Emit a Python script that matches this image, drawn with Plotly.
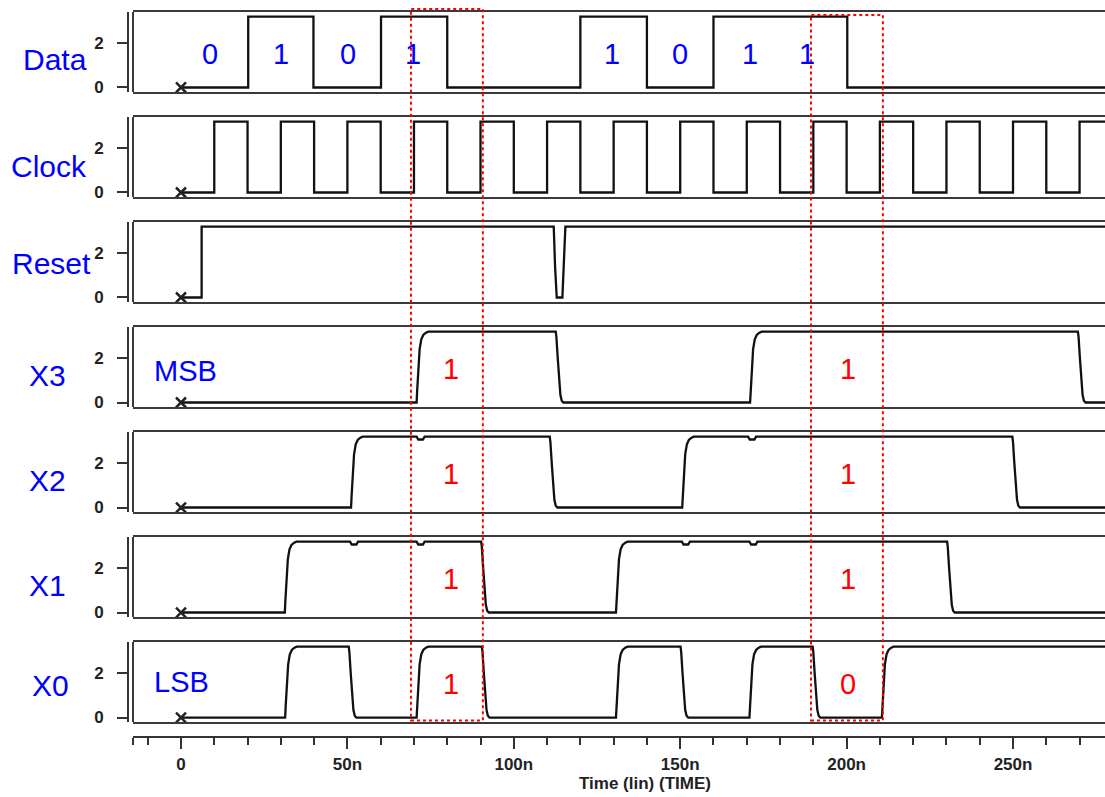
import plotly.graph_objects as go

W, H = 1105, 797
T_MIN, T_MAX = -14.42, 277.64
T_END = 285.0

# ---------------- data ----------------
NAMES = ["Data", "Clock", "Reset", "X3", "X2", "X1", "X0"]

DATA_T = [0, 20.2, 39.8, 60.1, 80.0, 120.0, 140.0, 160.0, 200.2, T_END]
DATA_V = [0, 3.2, 0, 3.2, 0, 3.2, 0, 3.2, 0, 0]

CLOCK_T = [0, 10, 20, 30, 40, 50, 60, 70, 80, 90, 100, 110, 120, 130, 140,
           150, 160, 170, 180, 190, 200, 210, 220, 230, 240, 250, 260, 270, T_END]
CLOCK_V = [0, 3.2, 0, 3.2, 0, 3.2, 0, 3.2, 0, 3.2, 0, 3.2, 0, 3.2, 0,
           3.2, 0, 3.2, 0, 3.2, 0, 3.2, 0, 3.2, 0, 3.2, 0, 3.2, 3.2]

RESET_T = [0, 6.2, 6.2, 112.0, 112.4, 112.9, 114.6, 115.0, 115.5, T_END]
RESET_V = [0, 0, 3.2, 3.2, 1.4, 0, 0, 1.4, 3.2, 3.2]

# edge shapes of the counter outputs (time offset in ns, volts)
RISE_DT = [0, 0.15, 0.5, 0.9, 1.4, 2.0, 2.8, 3.5]
RISE_V = [0, 0.5, 1.6, 2.4, 2.85, 3.05, 3.15, 3.2]
FALL_DT = [0, 0.2, 0.6, 1.0, 1.4, 1.8, 2.3]
FALL_V = [3.2, 2.95, 2.0, 1.0, 0.35, 0.08, 0]
DIP_DT = [-1.2, -0.7, 0.7, 1.2]
DIP_V = [3.2, 3.07, 3.07, 3.2]

X3_RISE, X3_FALL, X3_DIPS = [70.8, 171.0], [112.6, 269.5], []
X2_RISE, X2_FALL, X2_DIPS = [51.1, 150.6], [110.8, 249.8], [72.0, 171.6]
X1_RISE, X1_FALL, X1_DIPS = [31.2, 130.7], [90.2, 230.2], [52.0, 72.0, 151.7, 172.0]
X0_RISE = [31.3, 70.8, 130.7, 170.8, 210.6]
X0_FALL = [50.4, 90.4, 150.1, 189.8]
X0_DIPS = []

DATA_BITS = ["0", "1", "0", "1", "1", "0", "1", "1"]
DATA_BIT_T = [8.7, 30.0, 50.2, 69.7, 129.5, 149.8, 171.0, 188.0]

OUT_BIT_T = [81.1, 200.3]
OUT_BITS = {"X3": ["1", "1"], "X2": ["1", "1"], "X1": ["1", "1"], "X0": ["1", "0"]}

BOX_T0 = [69.1, 189.3]
BOX_T1 = [90.7, 210.9]

TIME_TICKS = [0, 50, 100, 150, 200, 250]
TIME_LABELS = ["0", "50n", "100n", "150n", "200n", "250n"]
TIME_MINOR = [-10, 10, 20, 30, 40, 60, 70, 80, 90, 110, 120, 130, 140, 160, 170,
              180, 190, 210, 220, 230, 240, 260, 270]
V_TICKS = [0, 2]
V_LABELS = ["0", "2"]


def build(rises, falls, dips):
    ev = sorted([(t, "r") for t in rises] + [(t, "f") for t in falls] + [(t, "d") for t in dips])
    ts, vs = [0.0], [0.0]
    for t, k in ev:
        dt, vv = {"r": (RISE_DT, RISE_V), "f": (FALL_DT, FALL_V), "d": (DIP_DT, DIP_V)}[k]
        ts += [t + d for d in dt]
        vs += list(vv)
    ts.append(T_END)
    vs.append(vs[-1])
    return ts, vs


SIGNALS = [
    (DATA_T, DATA_V, "hv"),
    (CLOCK_T, CLOCK_V, "hv"),
    (RESET_T, RESET_V, "linear"),
    (*build(X3_RISE, X3_FALL, X3_DIPS), "linear"),
    (*build(X2_RISE, X2_FALL, X2_DIPS), "linear"),
    (*build(X1_RISE, X1_FALL, X1_DIPS), "linear"),
    (*build(X0_RISE, X0_FALL, X0_DIPS), "linear"),
]

# ---------------- layout geometry (pixels) ----------------
ZERO0, STEP = 88.0, 105.67
Y_RANGE = [-0.2, 3.41]
X_LEFT_PX = 133
YAX_PX = 128


def py(px):
    return 1 - px / H


def px_x(px):
    return px / W


fig = go.Figure()
layout = dict(
    width=W, height=H, margin=dict(l=0, r=0, t=0, b=0),
    paper_bgcolor="white", plot_bgcolor="rgba(0,0,0,0)", showlegend=False,
    font=dict(family="Liberation Sans, Arial, sans-serif", color="#222"),
)
shapes, annots = [], []

# time axis (added first so its empty subplot sits underneath)
fig.add_trace(go.Scatter(x=[0], y=[None], xaxis="x8", yaxis="y8", mode="lines", hoverinfo="skip"))
layout["xaxis8"] = dict(domain=[px_x(X_LEFT_PX), 1], range=[T_MIN, T_MAX], anchor="free",
                        position=py(742), showline=True, linecolor="#333", linewidth=2,
                        ticks="outside", ticklen=11, tickwidth=2, tickcolor="#333",
                        tickvals=TIME_TICKS, ticktext=TIME_LABELS,
                        tickfont=dict(size=17, weight="bold", color="#222"),
                        minor=dict(tickvals=TIME_MINOR + [T_MIN], ticks="outside", ticklen=7,
                                   tickwidth=2, tickcolor="#333", showgrid=False),
                        showgrid=False, zeroline=False, fixedrange=True)
layout["yaxis8"] = dict(domain=[0, 0.01], anchor="x8", visible=False, fixedrange=True)

for i, (name, (ts, vs, shape)) in enumerate(zip(NAMES, SIGNALS)):
    k = "" if i == 0 else str(i + 1)
    z = ZERO0 + STEP * i
    top_px, bot_px = z - 76.0, z + 4.5
    fig.add_trace(go.Scatter(x=ts, y=vs, mode="lines", line=dict(color="#111", width=2.3, shape=shape),
                             xaxis="x" + k, yaxis="y" + k, hoverinfo="skip"))
    fig.add_trace(go.Scatter(x=[0], y=[0], mode="markers",
                             marker=dict(symbol="x-thin", size=10, line=dict(width=2.5, color="#222")),
                             xaxis="x" + k, yaxis="y" + k, hoverinfo="skip"))
    layout["xaxis" + k] = dict(domain=[px_x(X_LEFT_PX), 1], range=[T_MIN, T_MAX], anchor="y" + k,
                               showline=True, mirror=True, linecolor="#3a3a3a", linewidth=2,
                               showgrid=False, zeroline=False, showticklabels=False, ticks="",
                               fixedrange=True)
    layout["yaxis" + k] = dict(domain=[py(bot_px), py(top_px)], range=Y_RANGE, anchor="free",
                               position=px_x(YAX_PX), showline=True, linecolor="#333", linewidth=2,
                               ticks="outside", ticklen=10, tickwidth=2, tickcolor="#333",
                               tickvals=V_TICKS, ticktext=V_LABELS, ticklabelstandoff=10,
                               tickfont=dict(size=17, weight="bold", color="#222"),
                               showgrid=False, zeroline=False, fixedrange=True)
    shapes.append(dict(type="line", xref="paper", yref="paper", x0=px_x(X_LEFT_PX), x1=px_x(X_LEFT_PX),
                       y0=py(bot_px), y1=py(top_px), line=dict(color="#3a3a3a", width=2)))

# signal names
NAME_POS = [(55, 60), (49, 168), (51, 265), (47, 378), (47, 484), (47, 589), (50, 690)]
for name, (x, y) in zip(NAMES, NAME_POS):
    annots.append(dict(text=name, x=px_x(x), y=py(y), xref="paper", yref="paper", showarrow=False,
                       xanchor="center", yanchor="middle",
                       font=dict(size=30, color="#0000ff", family="Liberation Sans, Arial")))

# data bit labels
for b, t in zip(DATA_BITS, DATA_BIT_T):
    annots.append(dict(text=b, x=t, y=1.5, xref="x", yref="y", showarrow=False,
                       font=dict(size=29, color="#0000ff", family="Liberation Sans, Arial")))

# output bit labels
for name in ["X3", "X2", "X1", "X0"]:
    i = NAMES.index(name)
    k = str(i + 1)
    for b, t in zip(OUT_BITS[name], OUT_BIT_T):
        annots.append(dict(text=b, x=t, y=1.5, xref="x" + k, yref="y" + k, showarrow=False,
                           font=dict(size=29, color="#ff0000", family="Liberation Sans, Arial")))

annots.append(dict(text="MSB", x=1.5, y=1.4, xref="x4", yref="y4", showarrow=False, xanchor="center",
                   font=dict(size=29, color="#0000ff", family="Liberation Sans, Arial")))
annots.append(dict(text="LSB", x=0.3, y=1.6, xref="x7", yref="y7", showarrow=False, xanchor="center",
                   font=dict(size=29, color="#0000ff", family="Liberation Sans, Arial")))

# red dotted boxes
for t0, t1, top in zip(BOX_T0, BOX_T1, [9, 15]):
    shapes.append(dict(type="rect", xref="x7", yref="paper", x0=t0, x1=t1, y0=py(725), y1=py(top),
                       line=dict(color="#ff0000", width=2, dash="dot"), fillcolor="rgba(0,0,0,0)",
                       layer="above"))

annots.append(dict(text="Time (lin) (TIME)", x=px_x(645), y=py(788), xref="paper", yref="paper",
                   showarrow=False, xanchor="center", yanchor="middle",
                   font=dict(size=17, weight="bold", color="#222")))

layout["shapes"] = shapes
layout["annotations"] = annots
fig.update_layout(**layout)
fig.write_html("out.html")
